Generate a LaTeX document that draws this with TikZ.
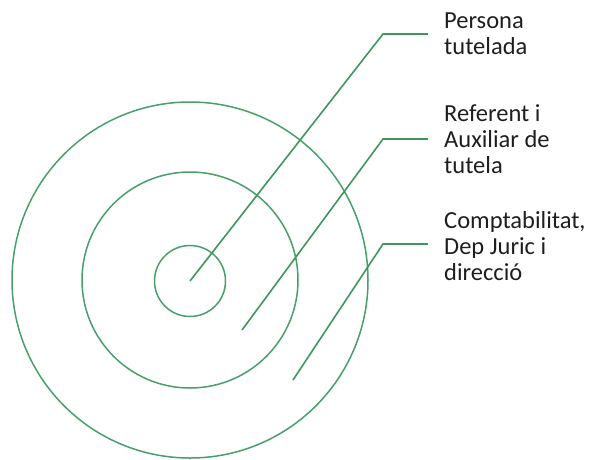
\documentclass[tikz,border=0pt]{standalone}
\usepackage{fontspec}
\setmainfont{Carlito}
\definecolor{ringgreen}{RGB}{72,160,104}
\definecolor{linegreen}{RGB}{62,150,92}
\definecolor{labeltext}{RGB}{30,30,30}
\begin{document}
\begin{tikzpicture}[x=1pt,y=1pt,
  ring/.style={circle, draw=ringgreen, line width=1.5pt, inner sep=0pt},
  leader/.style={draw=linegreen, line width=1.6pt},
  lbl/.style={anchor=base west, align=left, inner sep=0pt, text=labeltext,
    font=\fontsize{24.5}{26}\selectfont}]
\useasboundingbox (0,0) rectangle (591,-459);
% rings
\node[ring, minimum size=356pt] (outer) at (190,-280) {};
\node[ring, minimum size=216pt] (middle) at (190,-280) {};
\node[ring, minimum size=71pt] (inner) at (190,-281) {};
% labels (anchored at the baseline of the last line)
\node[lbl] (l1) at (444,-54.3) {Persona\\tutelada};
\node[lbl] (l2) at (444,-173.7) {Referent i\\Auxiliar de\\tutela};
\node[lbl] (l3) at (444,-280.3) {Comptabilitat,\\Dep Juric i\\direcció};
% leader points
\coordinate (s1) at (190,-281);
\coordinate (b1) at (383,-34);
\coordinate (e1) at (428,-34);
\coordinate (s2) at (242,-330);
\coordinate (b2) at (383,-139);
\coordinate (e2) at (428,-139);
\coordinate (s3) at (293,-380);
\coordinate (b3) at (383,-244);
\coordinate (e3) at (428,-244);
\draw[leader] (s1) -- (b1) -- (e1);
\draw[leader] (s2) -- (b2) -- (e2);
\draw[leader] (s3) -- (b3) -- (e3);
\end{tikzpicture}
\end{document}
